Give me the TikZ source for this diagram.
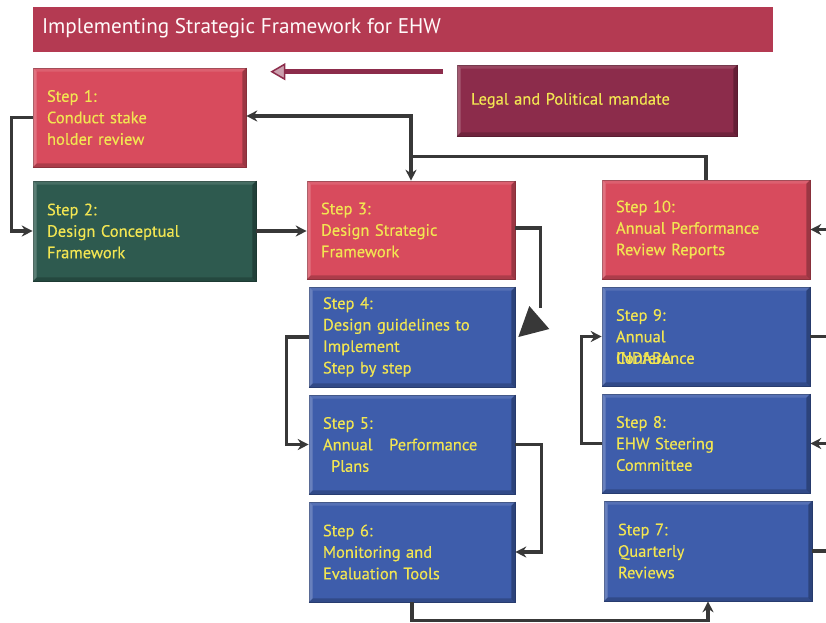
\documentclass[tikz,border=0pt]{standalone}
\usepackage{fontspec}
\setmainfont{PT Sans}
\newfontfamily\labelfont{PT Sans}[FakeBold=0.35]
\usetikzlibrary{arrows.meta,calc}

\definecolor{stepred}{HTML}{D84B5D}
\definecolor{stepblue}{HTML}{3E5DAB}
\definecolor{stepgreen}{HTML}{2E5A4F}
\definecolor{mandate}{HTML}{8C2C4B}
\definecolor{banner}{HTML}{B43A52}
\definecolor{labelyellow}{HTML}{F2E552}
\definecolor{wire}{HTML}{383838}

\tikzset{
  stepbox/.style args={#1/#2/#3}{draw=#1!70!black, line width=0.6pt, fill=#1,
    minimum width=#2pt, minimum height=#3pt, text width=#2pt-28pt,
    inner xsep=14pt, inner ysep=0pt, align=left, text=labelyellow,
    font=\labelfont\fontsize{16.5}{21.5}\selectfont},
  wireline/.style={draw=wire, line width=3.2pt, line join=miter},
  arr/.style={wireline, -{Stealth[length=11pt,width=11pt]}},
}

\begin{document}
\begin{tikzpicture}[x=1pt,y=-1pt]
\useasboundingbox (0,0) rectangle (826,622);
\clip (0,0) rectangle (826,622);

% banner
\node[fill=banner, minimum width=740pt, minimum height=45pt, inner sep=0pt] (title) at (403,29.5) {};
\node[anchor=west, text=white!92!pink, font=\fontsize{21.2}{25}\selectfont, inner sep=0pt] (titletext) at ([xshift=9pt,yshift=1pt]title.west) {Implementing Strategic Framework for EHW};

% mandate box
\node[stepbox=mandate/280/71] (legal) at (597,100.5) {Legal and Political mandate};

% steps
\node[stepbox=stepred/213/99]   (s1)  at (139.5,117.5) {Step 1:\\Conduct stake\\holder review};
\node[stepbox=stepgreen/223/100] (s2) at (144.5,231) {Step 2:\\Design Conceptual\\Framework};
\node[stepbox=stepred/208/98]   (s3)  at (411,230) {Step 3:\\Design Strategic\\Framework};
\node[stepbox=stepblue/206/100] (s4)  at (412,337) {Step 4:\\Design guidelines to\\Implement\\Step by step};
\node[stepbox=stepblue/206/99]  (s5)  at (412,444.5) {Step 5:\\Annual\quad Performance\\\hspace*{8pt}Plans};
\node[stepbox=stepblue/206/100] (s6)  at (412,552) {Step 6:\\Monitoring and\\Evaluation Tools};
\node[stepbox=stepred/208/99]   (s10) at (706,229.5) {Step 10:\\Annual Performance\\Review Reports};
\node[stepbox=stepblue/208/99]  (s9)  at (706,336.5) {Step 9:\\Annual\\\leavevmode\rlap{INDABA}Conference};
\node[stepbox=stepblue/208/99]  (s8)  at (706,443.5) {Step 8:\\EHW Steering\\Committee};
\node[stepbox=stepblue/208/100] (s7)  at (708,551) {Step 7:\\Quarterly\\Reviews};

% bevelled edges on every box
\foreach \n in {legal,s1,s2,s3,s4,s5,s6,s7,s8,s9,s10}{
  \fill[white, opacity=0.22] (\n.north west) -- (\n.south west) -- ([shift={(4pt,4pt)}]\n.south west) -- ([shift={(4pt,-4pt)}]\n.north west) -- cycle;
  \fill[white, opacity=0.12] (\n.north west) -- (\n.north east) -- ([shift={(-4pt,-4pt)}]\n.north east) -- ([shift={(4pt,-4pt)}]\n.north west) -- cycle;
  \fill[black, opacity=0.28] (\n.north east) -- (\n.south east) -- ([shift={(-4pt,4pt)}]\n.south east) -- ([shift={(-4pt,-4pt)}]\n.north east) -- cycle;
  \fill[black, opacity=0.2] (\n.south west) -- (\n.south east) -- ([shift={(-4pt,4pt)}]\n.south east) -- ([shift={(4pt,4pt)}]\n.south west) -- cycle;
}

% mandate feeds step 1
\draw[draw=mandate, line width=5.5pt, -{Triangle[length=15pt,width=17pt,fill=mandate!45!white,line width=1.5pt]}]
  ([shift={(-14pt,-7pt)}]legal.north west) -- ([shift={(24pt,-4pt)}]s1.north east);

% connectors
\draw[arr] (s1.west) -- ++(-21,0) |- (s2.west);
\draw[arr] (s2.east) -- (s2.east -| s3.west);
\coordinate (jn) at ($(s3.north)+(0,-24)$);
\draw[arr] (s10.north) |- (jn) -- (s3.north);
\draw[arr] (jn) |- ([yshift=1.5pt]s1.east);
\draw[wireline] ([yshift=2pt]s3.east) -- ++(25,0) -- ++(0,80) coordinate (drop);
\fill[wire] ($(drop)+(-11,-2)$) -- ($(drop)+(9,21)$) -- ([xshift=3pt]s4.east) -- cycle;
\draw[arr] (s4.west) -- ++(-22,0) |- (s5.west);
\draw[arr] (s5.east) -- ++(26,0) |- (s6.east);
\draw[arr] (s6.south) -- ++(0,18) -| (s7.south);
\draw[arr] (s7.east) -- ++(30,0) |- (s8.east);
\draw[arr] (s8.west) -- ++(-20,0) |- (s9.west);
\draw[arr] (s9.east) -- ++(30,0) |- (s10.east);
\end{tikzpicture}
\end{document}
